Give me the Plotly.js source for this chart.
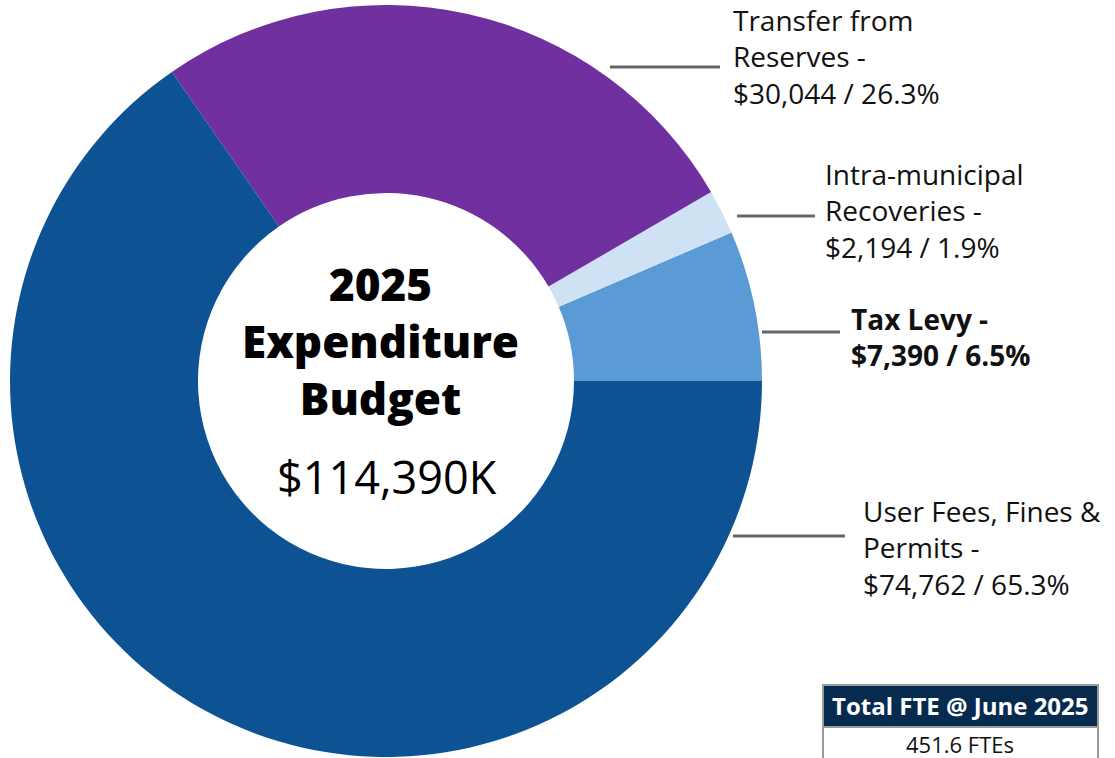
<!DOCTYPE html>
<html>
<head>
<meta charset="utf-8">
<script src="https://cdn.plot.ly/plotly-3.0.1.min.js"></script>
<style>html,body{margin:0;padding:0;background:#fff;}#chart{width:1115px;height:758px;}</style>
</head>
<body>
<div id="chart"></div>
<script>
// Data
const categories = ["Tax Levy", "Intra-municipal Recoveries", "Transfer from Reserves", "User Fees, Fines & Permits"];
const amounts = [7390, 2194, 30044, 74762];
const percents = ["6.5%", "1.9%", "26.3%", "65.3%"];
const labelLines = [
  ["Tax Levy -", "$7,390 / 6.5%"],
  ["Intra-municipal", "Recoveries -", "$2,194 / 1.9%"],
  ["Transfer from", "Reserves -", "$30,044 / 26.3%"],
  ["User Fees, Fines &", "Permits -", "$74,762 / 65.3%"]
];
const labelBold = [true, false, false, false];
const colors = ["#5b9bd5", "#cfe2f3", "#7030a0", "#0d5394"];
const centerTitleLines = ["2025", "Expenditure", "Budget"];
const centerTotal = "$114,390K";
const fteHeader = "Total FTE @ June 2025";
const fteValue = "451.6 FTEs";

const W = 1115, H = 758;
const px = x => x / W;
const py = y => 1 - y / H;

// label placement (pixels): [textX, blockCenterY, lineX0, lineX1, lineY]
const labelPos = [
  [849, 337, 762, 840, 332],
  [823, 210.5, 737, 815, 216],
  [731, 56.5, 610, 720, 67],
  [861, 547.5, 733, 845, 536]
];

const font = "'Open Sans', 'Noto Sans', sans-serif";
const total = amounts.reduce((a, b) => a + b, 0);

const trace = {
  type: "pie",
  labels: categories,
  values: amounts,
  hole: 0.5,
  sort: false,
  direction: "counterclockwise",
  rotation: 90 - 360 * amounts[0] / total,
  marker: {colors: colors, line: {width: 0}},
  textinfo: "none",
  hoverinfo: "none",
  showlegend: false,
  domain: {x: [px(10), px(762)], y: [py(757), py(5)]}
};

const annotations = [];
const shapes = [];
labelPos.forEach((p, i) => {
  const txt = labelLines[i].join("<br>");
  annotations.push({
    xref: "paper", yref: "paper", x: px(p[0]), y: py(p[1]),
    xanchor: "left", yanchor: "middle", align: "left", showarrow: false,
    text: labelBold[i] ? "<b>" + txt + "</b>" : txt,
    font: {family: font, size: 28, color: "#111"}
  });
  shapes.push({
    type: "line", xref: "paper", yref: "paper",
    x0: px(p[2]), x1: px(p[3]), y0: py(p[4]), y1: py(p[4]),
    line: {color: "#666666", width: 3}
  });
});

annotations.push({
  xref: "paper", yref: "paper", x: px(380), y: py(341),
  xanchor: "center", yanchor: "middle", align: "center", showarrow: false,
  text: centerTitleLines.join("<br>"),
  font: {family: font, size: 44, color: "#000", weight: 800}
});
annotations.push({
  xref: "paper", yref: "paper", x: px(387), y: py(476),
  xanchor: "center", yanchor: "middle", showarrow: false,
  text: centerTotal, font: {family: font, size: 45, color: "#000"}
});

// FTE box
shapes.push({type: "rect", xref: "paper", yref: "paper",
  x0: px(823), x1: px(1098), y0: py(800), y1: py(727),
  fillcolor: "#ffffff", line: {color: "#9a9a9a", width: 2}});
shapes.push({type: "rect", xref: "paper", yref: "paper",
  x0: px(823), x1: px(1098), y0: py(727), y1: py(685),
  fillcolor: "#062b4e", line: {color: "#9a9a9a", width: 2}});
annotations.push({
  xref: "paper", yref: "paper", x: px(960), y: py(705),
  xanchor: "center", yanchor: "middle", showarrow: false,
  text: "<b>" + fteHeader + "</b>", font: {family: font, size: 24, color: "#ffffff"}
});
annotations.push({
  xref: "paper", yref: "paper", x: px(960), y: py(744),
  xanchor: "center", yanchor: "middle", showarrow: false,
  text: fteValue, font: {family: font, size: 22, color: "#111"}
});

const layout = {
  width: W, height: H,
  margin: {l: 0, r: 0, t: 0, b: 0},
  paper_bgcolor: "#ffffff",
  showlegend: false,
  annotations: annotations,
  shapes: shapes
};

Plotly.newPlot("chart", [trace], layout, {displayModeBar: false, staticPlot: true});
</script>
</body>
</html>
